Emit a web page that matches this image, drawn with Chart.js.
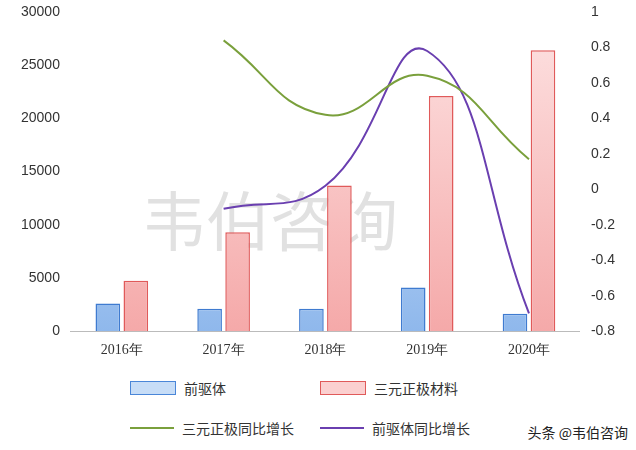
<!DOCTYPE html>
<html><head><meta charset="utf-8">
<script src="https://cdn.jsdelivr.net/npm/chart.js@4"></script>
<style>
body{margin:0;background:#fff;font-family:"Noto Sans CJK SC","Noto Sans",sans-serif;}
#wrap{position:relative;width:636px;height:450px;}
#legend{position:absolute;left:130px;top:378px;display:grid;grid-template-columns:190px 200px;row-gap:20px;font-size:14px;color:#333;}
.it{display:flex;align-items:center;gap:8px;}
.box{width:44px;height:12px;border:1px solid;}
.ln{width:44px;height:0;border-top:2px solid;}
#wm{position:absolute;right:8px;bottom:8px;font-size:14px;color:#222;}
</style></head><body>
<div id="wrap">
<canvas id="c" width="636" height="362" style="position:absolute;left:0;top:0"></canvas>
<div id="legend">
 <div class="it"><span class="box" style="background:#c7ddf7;border-color:#4a86d8"></span>前驱体</div>
 <div class="it"><span class="box" style="background:#fbd0d0;border-color:#e05a5a"></span>三元正极材料</div>
 <div class="it"><span class="ln" style="border-color:#7aa03c"></span>三元正极同比增长</div>
 <div class="it"><span class="ln" style="border-color:#6a3fb0"></span>前驱体同比增长</div>
</div>
<div id="wm">头条 @韦伯咨询</div>
</div>
<script>
// chart values
const years = ['2016年', '2017年', '2018年', '2019年', '2020年'];
const precursor = [2600, 2100, 2100, 4100, 1650];
const cathode = [4750, 9300, 13700, 22100, 26400];
const cathodeGrowth = [null, 0.84, 0.42, 0.64, 0.17];
const precursorGrowth = [null, -0.11, 0.02, 0.78, -0.7];
const rightTicks = [1, 0.8, 0.6, 0.4, 0.2, 0, -0.2, -0.4, -0.6, -0.8];

const watermark = {
  id: 'watermark',
  beforeDatasetsDraw(chart) {
    const ctx = chart.ctx;
    ctx.save();
    ctx.font = '64px "Noto Sans CJK SC"';
    ctx.fillStyle = 'rgba(170,170,170,0.35)';
    ctx.textAlign = 'center';
    ctx.fillText('韦伯咨询', 270, 245);
    ctx.restore();
  }
};

function grad(ctx, light, dark) {
  const a = ctx.chart.chartArea;
  if (!a) return light;
  const g = ctx.chart.ctx.createLinearGradient(0, a.top, 0, a.bottom);
  g.addColorStop(0, light);
  g.addColorStop(1, dark);
  return g;
}

new Chart(document.getElementById('c'), {
  data: {
    labels: years,
    datasets: [
      {type: 'line', label: '三元正极同比增长', data: cathodeGrowth, yAxisID: 'y1',
       borderColor: '#7aa03c', borderWidth: 2, pointRadius: 0, tension: 0.45, order: 0},
      {type: 'line', label: '前驱体同比增长', data: precursorGrowth, yAxisID: 'y1',
       borderColor: '#6a3fb0', borderWidth: 2, pointRadius: 0, tension: 0.45, order: 0},
      {type: 'bar', label: '前驱体', data: precursor,
       backgroundColor: c => grad(c, '#dbe9fb', '#8fb8ec'), borderColor: '#3f7bd0', borderWidth: 1.5,
       barPercentage: 0.88, categoryPercentage: 0.55, order: 1},
      {type: 'bar', label: '三元正极材料', data: cathode,
       backgroundColor: c => grad(c, '#fde3e3', '#f5a9a9'), borderColor: '#e05a5a', borderWidth: 1.5,
       barPercentage: 0.88, categoryPercentage: 0.55, order: 1}
    ]
  },
  options: {
    responsive: false,
    animation: false,
    layout: {padding: {top: 12, right: 18, left: 18}},
    plugins: {legend: {display: false}, tooltip: {enabled: false}},
    scales: {
      x: {grid: {display: false}, border: {color: '#bbb'},
          ticks: {color: '#333', font: {size: 14, family: 'Liberation Serif'}}},
      y: {min: 0, max: 30000, grid: {display: false}, border: {display: false},
          ticks: {stepSize: 5000, color: '#333', font: {size: 14}, callback: v => String(v)}},
      y1: {position: 'right', min: -0.8, max: 1, grid: {display: false}, border: {display: false},
           afterBuildTicks: s => { s.ticks = rightTicks.map(v => ({value: v})); },
           ticks: {color: '#333', font: {size: 14}, callback: v => String(Math.round(v * 10) / 10)}}
    }
  },
  plugins: [watermark]
});
</script>
</body></html>
